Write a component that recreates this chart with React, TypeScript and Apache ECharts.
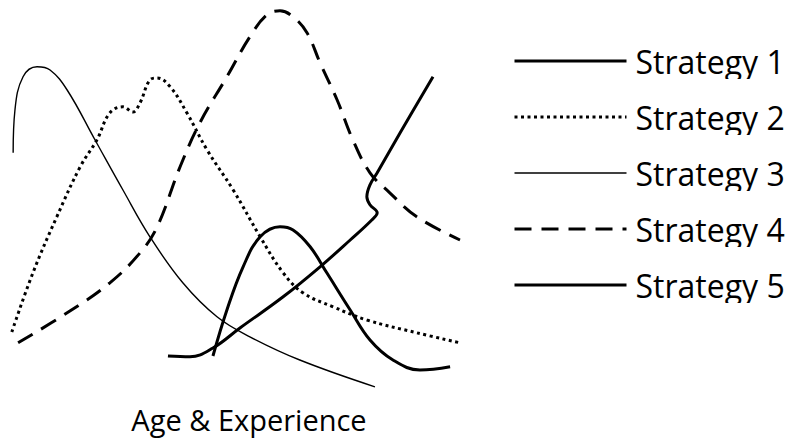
import React, { useEffect, useRef } from "react";
import * as echarts from "echarts";

const seriesNames = ["Strategy 1", "Strategy 2", "Strategy 3", "Strategy 4", "Strategy 5"];
const xLabel = "Age & Experience";

// Strategy 1: thick solid, rising with a kink
const s1: [number, number][] = [
  [35.1, 11], [40, 10.8], [45.1, 13], [51.1, 18], [60.7, 25.8], [68.9, 33.3], [75.6, 40],
  [80.4, 45], [81.6, 46.8], [80, 48.8], [79.3, 50.8], [80, 53.8], [81.6, 56.8], [86.7, 66.8], [94, 80.8],
];
// Strategy 2: dotted, double hump
const s2: [number, number][] = [
  [0.4, 17], [5.1, 31.8], [10.4, 45.8], [15.6, 58.3], [19.3, 65], [22.2, 71.8], [25.1, 73.3],
  [27.3, 72], [28.9, 74.3], [31.1, 80], [32.7, 80.5], [35.6, 78.3], [39.3, 71.8], [43.8, 62.5],
  [49.6, 52.5], [55.6, 40.8], [60.7, 31.8], [65.1, 26.8], [71.8, 23.3], [79.3, 20], [90.4, 16.8], [100, 14.3],
];
// Strategy 3: thin solid, early peak
const s3: [number, number][] = [
  [0.7, 61.8], [1.1, 72.5], [2.9, 80.8], [6, 83.3], [8.9, 82.5], [12.7, 77.5], [18.9, 65],
  [25.1, 52.5], [31.1, 40.8], [38.4, 29.3], [46, 20.8], [53.3, 15.8], [64.4, 10], [81.1, 3.3],
];
// Strategy 4: dashed, tall middle peak
const s4: [number, number][] = [
  [1.8, 14.3], [12.7, 21.8], [22.2, 29.3], [28.9, 36.8], [32.7, 43.3], [37.8, 58.3], [42.2, 69.3],
  [48.2, 80.8], [53.3, 90.8], [57.1, 96.3], [60, 97.3], [62.9, 95.8], [66, 91.8], [68.9, 84.3],
  [72.7, 75], [76.2, 65], [80, 56.8], [84.4, 51.8], [90.4, 45.8], [100, 40],
];
// Strategy 5: thick solid bell, late peak
const s5: [number, number][] = [
  [45.1, 11], [48.2, 22.5], [51.8, 33.3], [55.6, 40.8], [60, 43.3], [62.9, 42.5], [66.7, 38.3],
  [70.4, 31.8], [75.6, 22.5], [80, 15], [85.1, 10], [91.1, 7.5], [97.8, 8.3],
];

const seriesData = [s1, s2, s3, s4, s5];
const lineStyles = [
  { width: 3, type: "solid" as any },
  { width: 3, type: [3, 3.5] as any },
  { width: 1.4, type: "solid" as any },
  { width: 3, type: [17, 10] as any },
  { width: 3, type: "solid" as any },
];

export default function App() {
  const ref = useRef<HTMLDivElement>(null);
  useEffect(() => {
    if (!ref.current) return;
    const chart = echarts.init(ref.current, undefined, { renderer: "svg" });
    const font = "Open Sans";
    const legendTop = 38;
    const pitch = 56;
    chart.setOption({
      animation: false,
      backgroundColor: "#ffffff",
      grid: { left: 10, width: 450, top: 0, height: 400 },
      xAxis: { type: "value", min: 0, max: 100, show: false },
      yAxis: { type: "value", min: 0, max: 100, show: false },
      legend: {
        orient: "vertical",
        left: 508,
        top: legendTop,
        itemWidth: 112,
        itemHeight: 14,
        itemGap: 20,
        selectedMode: false,
        data: seriesNames.map((n, i) => ({
          name: n,
          itemStyle: { opacity: 0 },
          lineStyle: { color: "#000", width: lineStyles[i].width, type: lineStyles[i].type },
        })),
        textStyle: {
          fontFamily: font, fontSize: 32, color: "#000", lineHeight: 30,
          padding: [6, 0, 0, 4],
        },
      },
      graphic: [
        ...seriesNames.map((_, i) => ({
          type: "rect",
          z: 100,
          shape: { x: 628, y: 79 + i * pitch, width: 160, height: 9 },
          style: { fill: "#fff" },
        })),
        {
          type: "text",
          x: 249,
          y: 419,
          style: {
            text: xLabel,
            fontFamily: font,
            fontSize: 29,
            fill: "#000",
            align: "center",
            verticalAlign: "middle",
          },
        },
      ],
      series: seriesData.map((d, i) => ({
        name: seriesNames[i],
        type: "line",
        data: d,
        smooth: 0.4,
        symbol: "none",
        color: "#000",
        lineStyle: { color: "#000", width: lineStyles[i].width, type: lineStyles[i].type },
      })),
    });
    return () => chart.dispose();
  }, []);
  return (
    <div
      ref={ref}
      style={{ position: "fixed", left: 0, top: 0, width: 787, height: 441, background: "#fff" }}
    />
  );
}
